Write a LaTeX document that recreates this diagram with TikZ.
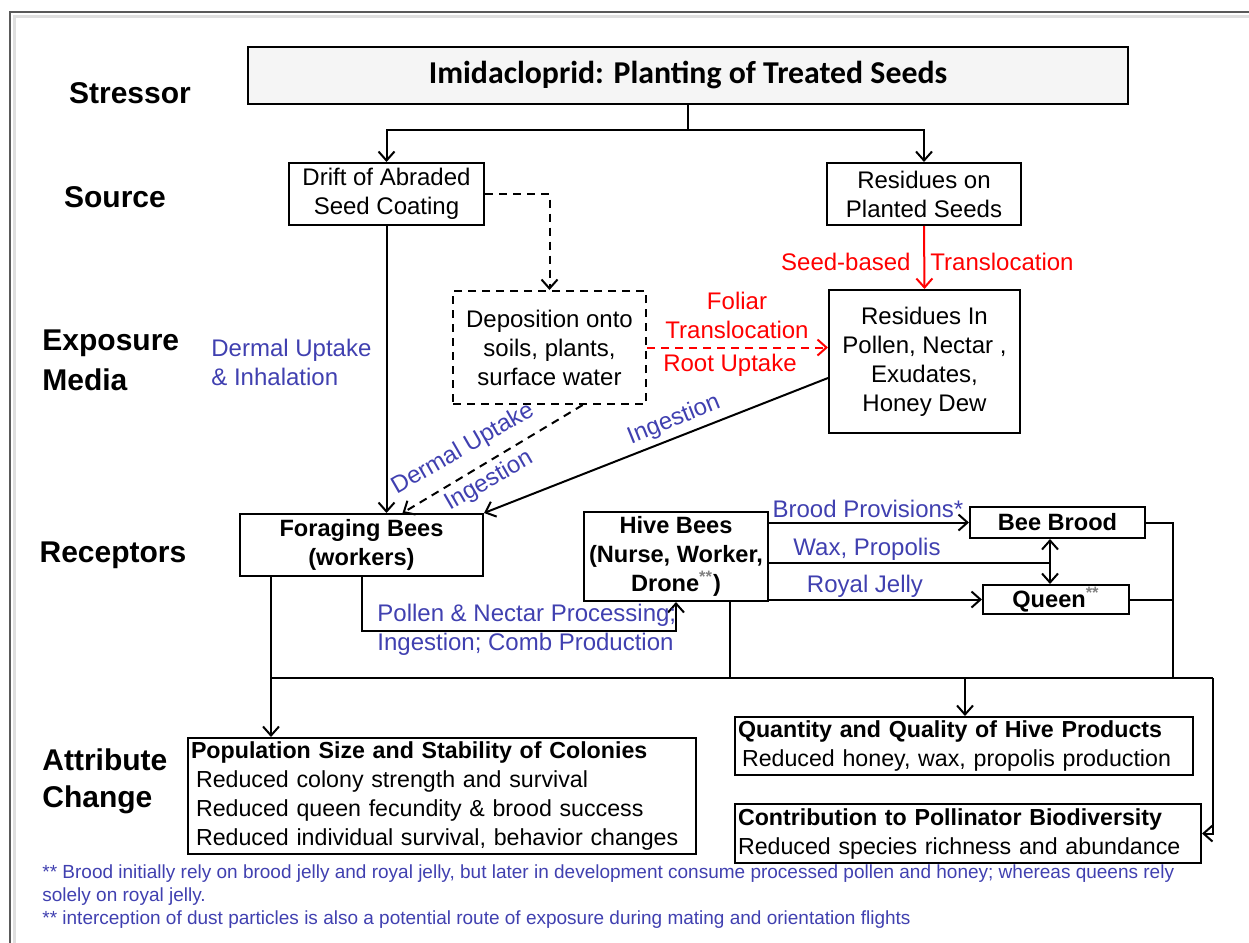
\documentclass[tikz,border=0pt]{standalone}
\usepackage{fontspec}
\setmainfont{Liberation Sans}
\newfontfamily\calib{Carlito}
\usetikzlibrary{arrows.meta,calc}
\definecolor{lblue}{RGB}{64,64,176}
\definecolor{lred}{RGB}{255,0,0}
\definecolor{framegray}{RGB}{90,90,90}
\newcommand\myfs[2]{\fontsize{#1}{#2}\selectfont}
\tikzset{
  wh/.style 2 args={minimum width=#1*0.5pt, minimum height=#2*0.5pt},
  box/.style={draw, line width=1pt, inner sep=0pt, align=center, font=\myfs{12}{14.5}},
  bbox/.style={box, font=\bfseries\myfs{11.8}{14.5}},
  dbox/.style={box, dashed, dash pattern=on 4pt off 3pt},
  abox/.style={box, align=left, anchor=north west, inner xsep=1.5pt, font=\myfs{11.6}{14.5}},
  lab/.style={inner sep=0pt, font=\bfseries\myfs{15}{20}},
  blab/.style={inner sep=0pt, text=lblue, font=\myfs{12}{14.5}},
  rlab/.style={inner sep=0pt, text=lred, font=\myfs{12}{14.5}},
  conn/.style={line width=1pt, -{Straight Barb[length=4.5pt,width=8pt,line width=1pt]}},
  plain/.style={line width=1pt},
  dconn/.style={conn, dash pattern=on 4pt off 3pt},
}
\begin{document}
\begin{tikzpicture}[x=0.5pt,y=-0.5pt]
\useasboundingbox (0,0) rectangle (1249,943);
% frame
\draw[framegray, line width=1pt] (10,943) -- (10,12) -- (1249,12);
\draw[gray!25, line width=1.5pt] (14,943) -- (14,16) -- (1249,16);

% row labels
\node[lab] (lstress) at (130,93) {Stressor};
\node[lab] (lsource) at (115,197) {Source};
\node[lab, anchor=west, align=left] (lexpo) at (42,360) {Exposure\\Media};
\node[lab] (lrecep) at (113,555) {Receptors};
\node[lab, anchor=west, align=left, font=\bfseries\myfs{15}{18.5}] (lattr) at (42,781.5) {Attribute\\Change};

% boxes
\node[box, fill=gray!8, wh={880}{57}, font=\calib\bfseries\myfs{15.9}{18}] (top) at (688,75.5) {Imidacloprid: Planting of Treated Seeds};
\node[box, wh={195}{62}] (drift) at (386.5,194) {Drift of Abraded\\Seed Coating};
\node[box, wh={194}{62}] (reson) at (924,194) {Residues on\\Planted Seeds};
\node[box, wh={191}{143}] (resin) at (924.5,361.5) {Residues In\\Pollen, Nectar ,\\Exudates,\\Honey Dew};
\node[dbox, wh={193}{113}] (depo) at (549.5,347.5) {Deposition onto\\soils, plants,\\surface water};
\node[bbox, wh={243}{62}] (forag) at (361.5,545) {Foraging Bees\\(workers)};
\node[bbox, wh={184}{89}] (hive) at (676,556.5) {Hive Bees\\(Nurse, Worker,\\Drone\textsuperscript{\textcolor{gray}{**}})};
\node[bbox, wh={175}{31}] (brood) at (1057.5,522.5) {Bee Brood};
\node[bbox, wh={146}{29}] (queen) at (1056,599.5) {Queen\textsuperscript{\textcolor{gray}{**}}};
\node[abox, minimum height=58pt, text width=251pt] (pop) at (187,737)
  {\textbf{Population Size and Stability of Colonies}\\
   \hspace*{2.5pt}Reduced colony strength and survival\\
   \hspace*{2.5pt}Reduced queen fecundity \& brood success\\
   \hspace*{2.5pt}Reduced individual survival, behavior changes};
\node[abox, minimum height=29pt, text width=226pt] (prod) at (734,716)
  {\textbf{Quantity and Quality of Hive Products}\\
   \hspace*{2pt}Reduced honey, wax, propolis production};
\node[abox, minimum height=29.5pt, text width=230pt] (bio) at (734,803)
  {\textbf{Contribution to Pollinator Biodiversity}\\
   Reduced species richness and abundance};

% coordinates
\coordinate (split) at (688,130);
\coordinate (fx) at (271,0);
\coordinate (bus) at (0,678);
\coordinate (rx) at (1173,0);
\coordinate (ex) at (1213,0);
\coordinate (dx) at (1050,0);
\coordinate (wy) at (0,563);
\coordinate (py) at (0,631);
\coordinate (hx) at (730,0);
\coordinate (qx) at (965,0);

% stressor to sources
\draw[plain] (top.south) -- (split);
\draw[conn] (split) -| (drift.north);
\draw[conn] (split) -| (reson.north);

% source connectors
\draw[dconn] (drift.east) -| (depo.north);
\draw[conn, lred] (reson.south) -- (resin.north);
\node[rlab, anchor=east] (lseed) at (911,262) {Seed-based};
\node[rlab, anchor=west] (ltrans) at (930,262) {Translocation};
\draw[dconn, lred] (depo.east) -- (depo.east -| resin.west);
\node[rlab, align=center] (lfoliar) at (737,315) {Foliar\\Translocation};
\node[rlab] (lroot) at (730,365) {Root Uptake};

% exposure to foragers
\draw[conn] (drift.south) -- (drift.south |- forag.north);
\node[blab, anchor=west, align=left] (ldermal) at (211,362) {Dermal Uptake\\\& Inhalation};
\draw[dconn] ($(depo.south west)!0.67!(depo.south east)$) -- ($(forag.north)+(41,0)$);
\node[blab, rotate=30] (ldu) at (463,449) {Dermal Uptake};
\node[blab, rotate=30] (ling1) at (489,481) {Ingestion};
\draw[conn] ($(resin.north west)+(0,89)$) -- (forag.north east);
\node[blab, rotate=22] (ling2) at (674,420) {Ingestion};

% hive bees connectors
\draw[conn] (hive.east |- brood.west) -- (brood.west);
\node[blab] (lprov) at (868,509) {Brood Provisions*};
\draw[plain] (hive.east |- wy) -- (dx |- wy);
\node[blab] (lwax) at (867,549) {Wax, Propolis};
\draw[line width=1pt, {Straight Barb[length=4.5pt,width=8pt,line width=1pt]}-{Straight Barb[length=4.5pt,width=8pt,line width=1pt]}] (brood.south -| dx) -- (queen.north -| dx);
\draw[conn] (hive.east |- queen.west) -- (queen.west);
\node[blab] (lroyal) at (865,586) {Royal Jelly};

% foragers to hive
\draw[conn] (forag.south) |- (hive.south |- py) -- (hive.south);
\node[blab, anchor=west] (lpollen) at (377,615) {Pollen \& Nectar Processing;};
\node[blab, anchor=west] (lcomb) at (377,644) {Ingestion; Comb Production};

% attribute bus
\draw[conn] (forag.south -| fx) -- (pop.north -| fx);
\draw[plain] (fx |- bus) -- (ex |- bus);
\draw[plain] (hive.south -| hx) -- (hx |- bus);
\draw[plain] (brood.east) -| (rx |- bus);
\draw[plain] (queen.east) -- (queen.east -| rx);
\draw[conn] (qx |- bus) -- (prod.north -| qx);
\draw[conn] (ex |- bus) |- (bio.east);

% footnotes
\node[inner sep=0pt, anchor=west, align=left, text=lblue, font=\myfs{9.5}{11.5}] (fn) at (42,897)
  {** Brood initially rely on brood jelly and royal jelly, but later in development consume processed pollen and honey; whereas queens rely\\
   solely on royal jelly.\\
   ** interception of dust particles is also a potential route of exposure during mating and orientation flights};
\end{tikzpicture}
\end{document}
